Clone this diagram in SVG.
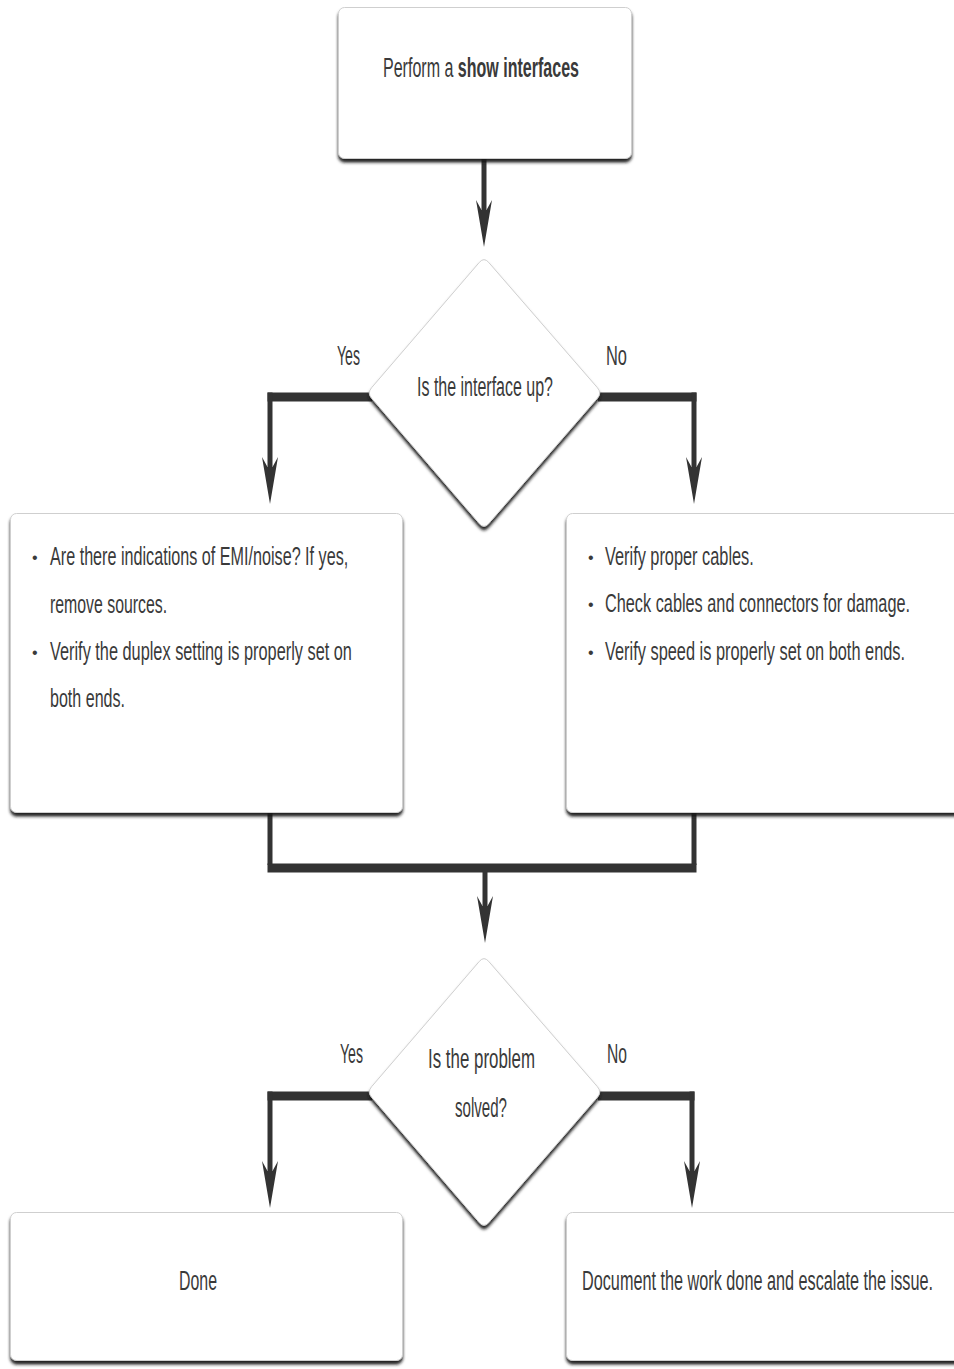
<svg xmlns="http://www.w3.org/2000/svg" width="954" height="1369" viewBox="0 0 954 1369">
<defs>
<filter id="sh" x="-10%" y="-10%" width="120%" height="130%">
<feDropShadow dx="0" dy="3.5" stdDeviation="1.4" flood-color="#161616" flood-opacity="0.95"/>
</filter>
<path id="ah" d="M0,0 L-8,-47 L-2.5,-37 L2.5,-37 L8,-47 Z"/>
<style>
.box{fill:#fff;stroke:#cfcfcf;stroke-width:1;filter:url(#sh)}
.t{font-family:"Liberation Sans",Arial,sans-serif;fill:#3a3a3a;font-size:28px}
.b{font-size:25px}
.dot{font-family:"Liberation Sans",Arial,sans-serif;fill:#3a3a3a;font-size:16px}
.h{stroke:#333;stroke-width:9;fill:none}
.v{stroke:#333;stroke-width:5;fill:none}
.head{fill:#333}
</style>
</defs>
<rect width="954" height="1369" fill="#fff"/>
<g id="connectors">
<line class="v" x1="484" y1="158" x2="484" y2="215"/>
<use href="#ah" class="head" x="484" y="247"/>
<line class="h" x1="267.5" y1="397" x2="372" y2="397"/>
<line class="v" x1="270" y1="392.5" x2="270" y2="470"/>
<use href="#ah" class="head" x="270" y="504"/>
<line class="h" x1="598" y1="397" x2="696.5" y2="397"/>
<line class="v" x1="694" y1="392.5" x2="694" y2="470"/>
<use href="#ah" class="head" x="694" y="504"/>
<line class="v" x1="270" y1="810" x2="270" y2="865"/>
<line class="v" x1="694" y1="810" x2="694" y2="865"/>
<line class="h" x1="267.5" y1="868" x2="696.5" y2="868"/>
<line class="v" x1="485" y1="870" x2="485" y2="910"/>
<use href="#ah" class="head" x="485" y="943"/>
<line class="h" x1="267.5" y1="1096" x2="372" y2="1096"/>
<line class="v" x1="270" y1="1091.5" x2="270" y2="1175"/>
<use href="#ah" class="head" x="270" y="1208"/>
<line class="h" x1="598" y1="1096" x2="694.5" y2="1096"/>
<line class="v" x1="692" y1="1091.5" x2="692" y2="1175"/>
<use href="#ah" class="head" x="692" y="1208"/>
</g>
<g id="n-start">
<rect class="box" x="338.5" y="7.5" width="293" height="151" rx="6"/>
<text class="t" transform="translate(383,0) scale(0.5,1)" x="0" y="77" font-size="29" textLength="392" lengthAdjust="spacingAndGlyphs">Perform a <tspan font-weight="bold">show interfaces</tspan></text>
</g>
<g id="n-dec1">
<path class="box" d="M479.4,262.3 Q484,257 488.6,262.3 L597.4,387.7 Q602,393 597.4,398.3 L488.6,523.7 Q484,529 479.4,523.7 L371.6,398.3 Q367,393 371.6,387.7 Z"/>
<text class="t" transform="translate(417,0) scale(0.5,1)" x="0" y="396" textLength="272" lengthAdjust="spacingAndGlyphs">Is the interface up?</text>
</g>
<g id="lbl-yes1"><text class="t" transform="translate(337,0) scale(0.5,1)" x="0" y="365" textLength="46" lengthAdjust="spacingAndGlyphs">Yes</text></g>
<g id="lbl-no1"><text class="t" transform="translate(606,0) scale(0.5,1)" x="0" y="365" textLength="42" lengthAdjust="spacingAndGlyphs">No</text></g>
<g id="n-up">
<rect class="box" x="10.5" y="513.5" width="392" height="299" rx="6"/>
<text class="dot" x="32" y="563">•</text>
<text class="t b" transform="translate(50,0) scale(0.62,1)" x="0" y="565" textLength="481" lengthAdjust="spacingAndGlyphs">Are there indications of EMI/noise? If yes,</text>
<text class="t b" transform="translate(50,0) scale(0.62,1)" x="0" y="613" textLength="189" lengthAdjust="spacingAndGlyphs">remove sources.</text>
<text class="dot" x="32" y="658">•</text>
<text class="t b" transform="translate(50,0) scale(0.62,1)" x="0" y="660" textLength="487" lengthAdjust="spacingAndGlyphs">Verify the duplex setting is properly set on</text>
<text class="t b" transform="translate(50,0) scale(0.62,1)" x="0" y="707" textLength="121" lengthAdjust="spacingAndGlyphs">both ends.</text>
</g>
<g id="n-down">
<rect class="box" x="566.5" y="513.5" width="400" height="299" rx="6"/>
<text class="dot" x="588" y="563">•</text>
<text class="t b" transform="translate(605,0) scale(0.62,1)" x="0" y="565" textLength="240" lengthAdjust="spacingAndGlyphs">Verify proper cables.</text>
<text class="dot" x="588" y="610">•</text>
<text class="t b" transform="translate(605,0) scale(0.62,1)" x="0" y="612" textLength="492" lengthAdjust="spacingAndGlyphs">Check cables and connectors for damage.</text>
<text class="dot" x="588" y="658">•</text>
<text class="t b" transform="translate(605,0) scale(0.62,1)" x="0" y="660" textLength="484" lengthAdjust="spacingAndGlyphs">Verify speed is properly set on both ends.</text>
</g>
<g id="n-dec2">
<path class="box" d="M479.4,961.3 Q484,956 488.6,961.3 L597.4,1086.7 Q602,1092 597.4,1097.3 L488.6,1222.7 Q484,1228 479.4,1222.7 L371.6,1097.3 Q367,1092 371.6,1086.7 Z"/>
<text class="t" transform="translate(428,0) scale(0.5,1)" x="0" y="1068" textLength="214" lengthAdjust="spacingAndGlyphs">Is the problem</text>
<text class="t" transform="translate(455,0) scale(0.5,1)" x="0" y="1117" textLength="104" lengthAdjust="spacingAndGlyphs">solved?</text>
</g>
<g id="lbl-yes2"><text class="t" transform="translate(340,0) scale(0.5,1)" x="0" y="1063" textLength="46" lengthAdjust="spacingAndGlyphs">Yes</text></g>
<g id="lbl-no2"><text class="t" transform="translate(607,0) scale(0.5,1)" x="0" y="1063" textLength="40" lengthAdjust="spacingAndGlyphs">No</text></g>
<g id="n-done">
<rect class="box" x="10.5" y="1212.5" width="392" height="148" rx="6"/>
<text class="t" transform="translate(179,0) scale(0.5,1)" x="0" y="1290" textLength="76" lengthAdjust="spacingAndGlyphs">Done</text>
</g>
<g id="n-escalate">
<rect class="box" x="566.5" y="1212.5" width="400" height="148" rx="6"/>
<text class="t" transform="translate(582,0) scale(0.5,1)" x="0" y="1290" textLength="702" lengthAdjust="spacingAndGlyphs">Document the work done and escalate the issue.</text>
</g>
</svg>
